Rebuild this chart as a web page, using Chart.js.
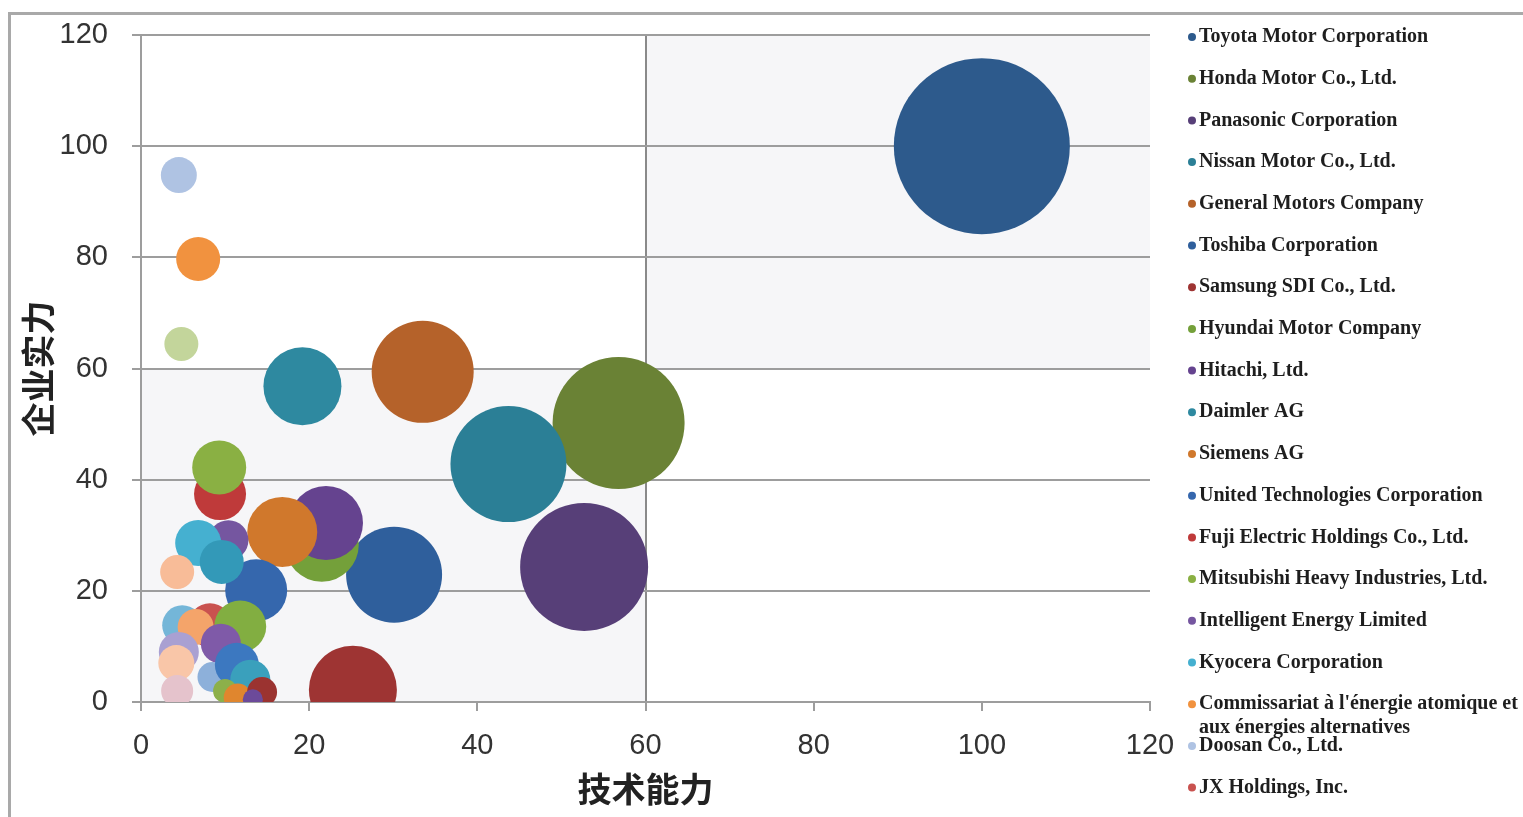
<!DOCTYPE html>
<html lang="zh-CN">
<head>
<meta charset="utf-8">
<title>技术能力 / 企业实力</title>
<script src="https://cdn.jsdelivr.net/npm/chart.js@4.4.1/dist/chart.umd.min.js"></script>
<style>
  html, body { margin: 0; padding: 0; background: #fff; }
  #wrap { position: relative; width: 1523px; height: 817px; overflow: hidden; }
  #frame {
    position: absolute; left: 8px; top: 12px; right: -10px; bottom: -10px;
    border-top: 3px solid #a9a9a9; border-left: 3px solid #a9a9a9;
  }
  canvas { position: absolute; left: 0; top: 0; }
</style>
</head>
<body>
<div id="wrap">
  <div id="frame"></div>
  <canvas id="bubbleChart" width="1523" height="817"></canvas>
</div>
<script>
// Named companies (legend order)
const companies = [
  'Toyota Motor Corporation',
  'Honda Motor Co., Ltd.',
  'Panasonic Corporation',
  'Nissan Motor Co., Ltd.',
  'General Motors Company',
  'Toshiba Corporation',
  'Samsung SDI Co., Ltd.',
  'Hyundai Motor Company',
  'Hitachi, Ltd.',
  'Daimler AG',
  'Siemens AG',
  'United Technologies Corporation',
  'Fuji Electric Holdings Co., Ltd.',
  'Mitsubishi Heavy Industries, Ltd.',
  'Intelligent Energy Limited',
  'Kyocera Corporation',
  "Commissariat à l'énergie atomique et aux énergies alternatives",
  'Doosan Co., Ltd.',
  'JX Holdings, Inc.'
];
// 技术能力 (x), 企业实力 (y), bubble size
const techScores     = [100, 56.8, 52.7, 43.7, 33.5, 30.1, 25.2, 21.5, 22.0, 19.2, 16.8, 13.7, 9.4, 9.3, 10.4, 6.8, 6.8, 4.5, 8.2];
const strengthScores = [100, 50.2, 24.3, 42.8, 59.4, 22.9, 2.2, 28.3, 32.2, 56.8, 30.6, 20.1, 37.4, 42.2, 29.1, 28.6, 79.7, 94.8, 13.8];
const bubbleSizes    = [88, 66, 64, 58, 51, 48, 44, 37, 37, 39, 35, 31, 26, 27, 20, 23, 22, 18, 22];

// Further companies shown in the plot but not in the visible legend
const otherTech     = [4.8, 9.6, 4.3, 11.8, 4.9, 6.5, 4.5, 9.5, 8.5, 11.4, 4.2, 13.0, 10.0, 11.5, 14.4, 13.3, 4.3];
const otherStrength = [64.4, 25.2, 23.4, 13.6, 13.8, 13.5, 9.0, 10.5, 4.5, 6.7, 7.0, 4.0, 2.0, 0.8, 1.8, 0.5, 2.0];
const otherSizes    = [17, 22, 17, 26, 20, 18, 20, 20, 15, 22, 18, 20, 12, 14, 15, 10, 16];

// axis ticks
const axisTicks = [0, 20, 40, 60, 80, 100, 120];

// styles
const companyColors = [
  '#2d5a8c', '#6a8235', '#573f78', '#2b7f96', '#b5622a', '#2f5f9c', '#9e3433',
  '#74a03a', '#65438f', '#2e89a0', '#d0782c', '#3567ad', '#bf3a3a', '#8ab043',
  '#7556a0', '#45b0d0', '#f1923f', '#afc3e3', '#c9524f'
];
const otherColors = [
  '#c3d59b', '#3399b8', '#f8bc98', '#82ae41', '#74b6d8', '#f4a46a', '#a9a0d2',
  '#7f5aa8', '#8db0da', '#3c78c0', '#f9c6a8', '#3aa0bc', '#8cb04a', '#e0862e',
  '#9b3330', '#6c4a9a', '#e5c3cc'
];

const GRID = '#9d9d9d';
const QUAD_BG = '#f6f6f8';
const tickFont = { family: "'Liberation Sans Narrow', 'Liberation Sans', sans-serif", size: 29 };
const titleFont = { family: "'Noto Sans CJK SC', sans-serif", size: 34, weight: 'bold' };
const tickStep = axisTicks[1] - axisTicks[0];
const axisMin = axisTicks[0];
const axisMax = axisTicks[axisTicks.length - 1];

const datasets = companies.map((name, i) => ({
  label: name,
  data: [{ x: techScores[i], y: strengthScores[i], r: bubbleSizes[i] }],
  backgroundColor: companyColors[i],
  borderWidth: 0,
  hoverBorderWidth: 0,
  clip: 0,
  order: companies.length - i + 1
}));
datasets.push({
  label: '',
  data: otherTech.map((x, i) => ({ x, y: otherStrength[i], r: otherSizes[i] })),
  backgroundColor: otherColors,
  borderWidth: 0,
  hoverBorderWidth: 0,
  clip: 0,
  order: 0
});

// checkerboard quadrants split at 60/60
const quadrants = {
  id: 'quadrants',
  beforeDraw(chart) {
    const { ctx, chartArea: a, scales } = chart;
    const mx = scales.x.getPixelForValue(60);
    const my = scales.y.getPixelForValue(60);
    ctx.save();
    ctx.fillStyle = QUAD_BG;
    ctx.fillRect(mx, a.top, a.right - mx, my - a.top);
    ctx.fillRect(a.left, my, mx - a.left, a.bottom - my);
    ctx.restore();
  }
};

// legend on the right, wrapped like the original
const sideLegend = {
  id: 'sideLegend',
  afterDraw(chart) {
    const ctx = chart.ctx;
    const dotX = chart.chartArea.right + 42;
    const textX = dotX + 7;
    const maxW = chart.width - textX + 2;
    ctx.save();
    ctx.font = 'bold 20px "Liberation Serif", "Times New Roman", serif';
    ctx.textBaseline = 'middle';
    companies.forEach((name, i) => {
      const y = 37 + i * 41.7;
      ctx.beginPath();
      ctx.arc(dotX, y, 4, 0, Math.PI * 2);
      ctx.fillStyle = companyColors[i];
      ctx.fill();
      ctx.fillStyle = '#1e1e1e';
      const words = name.split(' ');
      let line = '', ly = y;
      words.forEach(w => {
        const test = line ? line + ' ' + w : w;
        if (ctx.measureText(test).width > maxW && line) {
          ctx.fillText(line, textX, ly);
          line = w;
          ly += 24;
        } else {
          line = test;
        }
      });
      ctx.fillText(line, textX, ly);
    });
    ctx.restore();
  }
};

new Chart(document.getElementById('bubbleChart'), {
  type: 'bubble',
  data: { datasets },
  plugins: [quadrants, sideLegend],
  options: {
    responsive: false,
    animation: false,
    layout: { autoPadding: false, padding: { top: 35, right: 373, bottom: 0, left: 0 } },
    plugins: {
      legend: { display: false },
      tooltip: { enabled: false }
    },
    scales: {
      x: {
        type: 'linear',
        min: axisMin,
        max: axisMax,
        afterFit: (scale) => {
          scale.height = 115;
          scale.paddingLeft = 0;
          scale.paddingRight = 0;
        },
        grid: {
          color: (c) => (c.tick && c.tick.value === 60 ? '#8a8a8a' : 'rgba(0,0,0,0)'),
          tickColor: GRID,
          lineWidth: 2,
          tickLength: 9
        },
        border: { display: true, color: GRID, width: 2 },
        ticks: { color: '#333', font: tickFont, padding: 18, stepSize: tickStep, maxRotation: 0 },
        title: {
          display: true,
          text: '技术能力',
          color: '#222',
          font: titleFont,
          padding: { top: 0, bottom: 8 }
        }
      },
      y: {
        type: 'linear',
        min: axisMin,
        max: axisMax,
        afterFit: (scale) => {
          scale.width = 141;
          scale.paddingTop = 0;
          scale.paddingBottom = 0;
        },
        grid: { color: GRID, lineWidth: 2, tickLength: 9 },
        border: { display: true, color: GRID, width: 2 },
        ticks: { color: '#333', font: tickFont, padding: 24, stepSize: tickStep },
        title: {
          display: true,
          text: '企业实力',
          color: '#222',
          font: titleFont,
          padding: { top: 18, bottom: 0 }
        }
      }
    }
  }
});
</script>
</body>
</html>
